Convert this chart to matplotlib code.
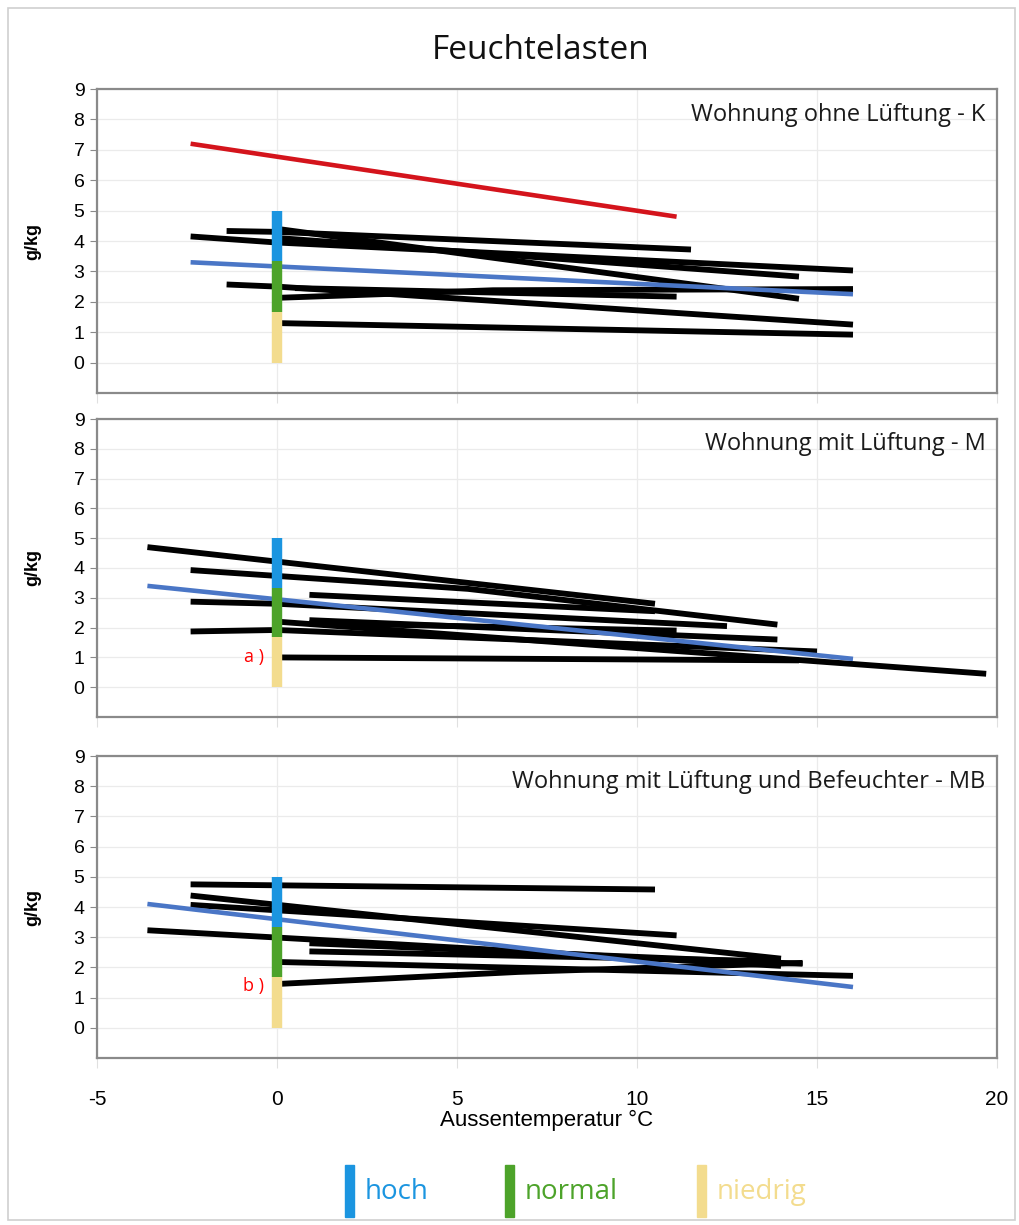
import matplotlib.pyplot as plt
from matplotlib.patches import Rectangle

plt.rcParams['axes.unicode_minus'] = False

# --- Daten ---
titel = 'Feuchtelasten'
panel_titel = ['Wohnung ohne Lüftung - K',
               'Wohnung mit Lüftung - M',
               'Wohnung mit Lüftung und Befeuchter - MB']

# Wohnung ohne Lüftung - K: einzelne Messreihen (x = Aussentemperatur, y = g/kg)
k_black_x = [[-1.4, 0, 11.5], [-2.4, 0, 16.0], [0, 14.5], [0, 14.5],
             [-1.4, 0, 16.0], [0, 6.0, 16.0], [0.5, 11.1], [0, 16.0]]
k_black_y = [[4.33, 4.3, 3.72], [4.15, 3.95, 3.03], [4.4, 2.1], [4.1, 2.83],
             [2.57, 2.5, 1.25], [2.13, 2.38, 2.42], [2.45, 2.17], [1.3, 0.92]]
k_red_x = [-2.4, 11.1]
k_red_y = [7.2, 4.8]
k_blue_x = [-2.4, 16.0]
k_blue_y = [3.3, 2.25]

# Wohnung mit Lüftung - M
m_black_x = [[-3.6, 10.5], [-2.4, 5.3, 13.9], [0.9, 10.5], [-2.4, 0, 12.5],
             [-2.4, 0, 15.0], [0.9, 13.9], [0, 19.7], [0, 14.5], [0.9, 11.1]]
m_black_y = [[4.7, 2.8], [3.93, 3.3, 2.1], [3.1, 2.55], [2.87, 2.8, 2.05],
             [1.87, 1.92, 1.2], [2.25, 1.6], [2.2, 0.45], [1.0, 0.9], [2.15, 1.9]]
m_blue_x = [-3.6, 16.0]
m_blue_y = [3.4, 0.95]

# Wohnung mit Lüftung und Befeuchter - MB
mb_black_x = [[-2.4, 10.5], [-2.4, 14.0], [-2.4, 11.1], [-3.6, 14.0],
              [0.9, 14.6], [0.9, 14.0], [0, 16.0], [0, 6.7, 14.6]]
mb_black_y = [[4.75, 4.58], [4.38, 2.29], [4.07, 3.06], [3.23, 2.05],
              [2.8, 2.12], [2.53, 2.2], [2.18, 1.72], [1.45, 1.85, 2.15]]
mb_blue_x = [-3.6, 16.0]
mb_blue_y = [4.1, 1.35]

# Bewertungsbalken bei 0 °C
stufen = ['niedrig', 'normal', 'hoch']
stufen_grenzen = [0.0, 1.67, 3.33, 5.0]
stufen_farben = ['#F3DC8E', '#4DA32A', '#1B95E0']
marken = [None, 'a )', 'b )']
marken_y = [None, 1.0, 1.4]

x_ticks = [-5, 0, 5, 10, 15, 20]
y_ticks = list(range(10))

# --- Layout ---
fig = plt.figure(figsize=(10.2, 12.25), dpi=100)
fig.patches.append(Rectangle((8 / 1020, 5 / 1225), 1007 / 1020, 1212 / 1225,
                             transform=fig.transFigure, fill=False,
                             edgecolor='#cfcfcf', linewidth=1.2))

fig.text(0.53, 0.959, titel, ha='center', va='center', fontsize=24,
         family=['Open Sans', 'DejaVu Sans'], color='#111111')

left, width = 97 / 1020, 900 / 1020
boxes = [(89, 393), (419, 717), (756, 1058)]
serien = [
    (k_black_x, k_black_y, k_blue_x, k_blue_y),
    (m_black_x, m_black_y, m_blue_x, m_blue_y),
    (mb_black_x, mb_black_y, mb_blue_x, mb_blue_y),
]

for i, (top, bot) in enumerate(boxes):
    ax = fig.add_axes([left, 1 - bot / 1225, width, (bot - top) / 1225])
    bx, by, blx, bly = serien[i]
    ax.set_xlim(-5, 20)
    ax.set_ylim(-1, 9)

    for xs, ys in zip(bx, by):
        ax.plot(xs, ys, color='black', linewidth=4.2, solid_capstyle='butt', zorder=3)
    ax.plot(blx, bly, color='#4A76C6', linewidth=3.3, solid_capstyle='butt', zorder=4)
    if i == 0:
        ax.plot(k_red_x, k_red_y, color='#D4141C', linewidth=3.3,
                solid_capstyle='butt', zorder=4)

    for j in range(3):
        ax.plot([0, 0], [stufen_grenzen[j], stufen_grenzen[j + 1]],
                color=stufen_farben[j], linewidth=7.5, solid_capstyle='butt', zorder=5)

    if marken[i]:
        ax.text(-0.35, marken_y[i], marken[i], color='red', fontsize=13,
                ha='right', va='center', family=['Open Sans', 'DejaVu Sans'])

    ax.text(0.987, 0.915, panel_titel[i], transform=ax.transAxes, ha='right',
            va='center', fontsize=17, family=['Open Sans', 'DejaVu Sans'],
            color='#1a1a1a')

    ax.set_xticks(x_ticks)
    ax.set_yticks(y_ticks)
    ax.grid(True, color='#ebebeb', linewidth=0.9, zorder=0)
    ax.set_axisbelow(True)
    for s in ax.spines.values():
        s.set_color('#8a8a8a')
        s.set_linewidth(1.6)
    ax.tick_params(axis='y', length=5, color='#8a8a8a', labelsize=14, pad=4)
    ax.tick_params(axis='x', length=7, color='#e0e0e0', direction='out')
    for lab in ax.get_yticklabels():
        lab.set_family(['Liberation Sans', 'DejaVu Sans'])
    ax.set_ylabel('g/kg', fontsize=13, fontweight='bold',
                  family=['Liberation Sans', 'DejaVu Sans'])
    ax.yaxis.set_label_coords(-0.062, 0.5)

    if i == 2:
        ax.tick_params(axis='x', labelsize=15, pad=16)
        for lab in ax.get_xticklabels():
            lab.set_family(['Liberation Sans Narrow', 'Liberation Sans', 'DejaVu Sans'])
        ax.set_xlabel('Aussentemperatur °C', fontsize=16, labelpad=1,
                      family=['Liberation Sans Narrow', 'Liberation Sans', 'DejaVu Sans'])
    else:
        ax.set_xticklabels([])

# Legende unten
leg_x = [345, 505, 697]
leg_farben = ['#1B95E0', '#4DA32A', '#F3DC8E']
leg_text = ['hoch', 'normal', 'niedrig']
for xp, c, t in zip(leg_x, leg_farben, leg_text):
    fig.patches.append(Rectangle((xp / 1020, 1 - 1217 / 1225), 9 / 1020, 52 / 1225,
                                 transform=fig.transFigure, color=c))
    fig.text((xp + 20) / 1020, 1 - 1192 / 1225, t, color=c, fontsize=20,
             ha='left', va='center', family=['Open Sans', 'DejaVu Sans'])

fig.savefig('out.png', dpi=100, facecolor='white')
